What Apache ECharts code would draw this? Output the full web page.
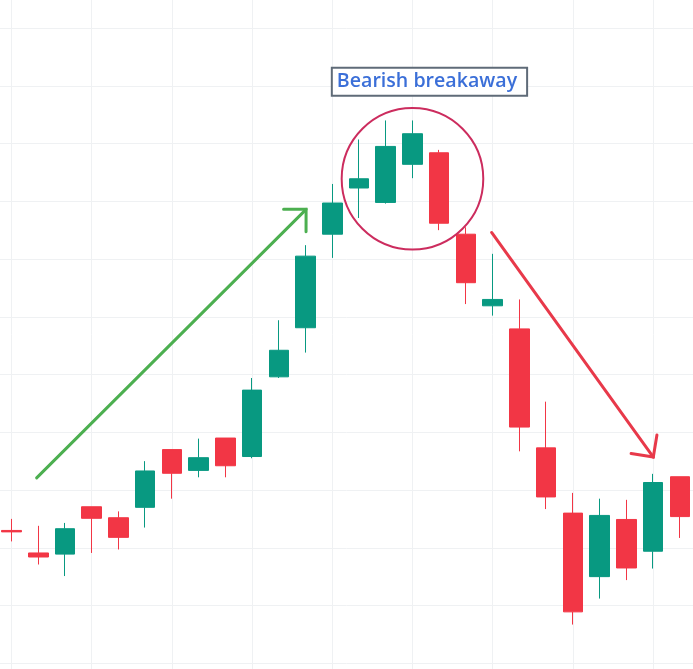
<!DOCTYPE html>
<html>
<head>
<meta charset="utf-8">
<script src="https://cdn.jsdelivr.net/npm/echarts@6/dist/echarts.min.js"></script>
<style>
html,body{margin:0;padding:0;background:#ffffff;}
#c{width:693px;height:669px;}
</style>
</head>
<body>
<div id="c"></div>
<script>
// ---- data ----
const categories = ['1','2','3','4','5','6','7','8','9','10','11','12','13','14','15','16','17','18','19','20','21','22','23','24','25','26'];
const opens  = [23.0, 19.1, 18.9, 27.1, 25.2, 27.0, 37.0, 33.4, 39.0, 35.8, 49.6, 58.1, 74.3, 82.3, 79.8, 86.4, 88.4, 74.3, 61.9, 57.9, 37.3, 26.0, 15.0, 24.9, 19.4, 32.3];
const closes = [22.75, 18.4, 23.3, 25.1, 21.8, 33.3, 32.9, 35.6, 34.2, 47.3, 54.2, 70.5, 79.7, 83.9, 89.5, 91.7, 76.2, 65.9, 63.0, 40.9, 28.8, 8.9, 25.6, 16.5, 31.3, 25.4];
const lows   = [21.1, 17.1, 15.1, 19.1, 19.7, 23.5, 28.5, 32.2, 32.2, 35.5, 49.4, 53.8, 70.2, 77.1, 79.6, 84.0, 75.0, 62.2, 60.2, 36.7, 26.7, 6.7, 11.2, 14.4, 16.4, 21.7];
const highs  = [25.0, 23.8, 24.3, 27.1, 26.3, 35.0, 37.0, 38.9, 39.0, 49.4, 59.4, 72.4, 83.0, 90.7, 94.0, 94.0, 88.9, 75.5, 70.9, 63.0, 45.3, 29.5, 28.5, 28.3, 32.8, 32.3];

// ---- annotation anchors: [candle index, price] ----
const annotationText = 'Bearish breakaway';
const labelAnchor = [12.02, 100.7];
const circleAnchor = [15.0, 83.9];
const greenArrow = [[0.94, 32.1], [11.02, 78.6]];
const redArrow = [[17.96, 74.6], [24.01, 35.7]];

// padded axis (one empty slot on each side so grid lines reach the edges)
const axisCats = [' '].concat(categories, ['  ']);
const ohlc = categories.map((c, i) => [opens[i], closes[i], lows[i], highs[i]]);
const seriesData = [['-','-','-','-']].concat(ohlc, [['-','-','-','-']]);

const UP = '#089981', DOWN = '#F23645', GRID = '#eff1f3';

const chart = echarts.init(document.getElementById('c'), null, {renderer: 'canvas'});
chart.setOption({
  animation: false,
  backgroundColor: '#ffffff',
  grid: {left: -15.2, right: -13.5, top: -29.7, bottom: -52, containLabel: false, outerBoundsMode: 'none'},
  xAxis: {
    type: 'category',
    data: axisCats,
    boundaryGap: false,
    axisLine: {show: false},
    axisTick: {show: false},
    axisLabel: {show: false},
    splitLine: {show: true, interval: function (idx) { return idx % 3 === 1; }, lineStyle: {color: GRID, width: 1}}
  },
  yAxis: {
    type: 'value',
    min: -10, max: 120, interval: 10,
    scale: false,
    axisLine: {show: false},
    axisTick: {show: false},
    axisLabel: {show: false},
    splitLine: {show: true, lineStyle: {color: GRID, width: 1}}
  },
  series: [{
    type: 'candlestick',
    data: seriesData,
    barWidth: 20,
    clip: false,
    itemStyle: {color: UP, color0: DOWN, borderColor: UP, borderColor0: DOWN, borderWidth: 1}
  }]
});

function toPx(anchor) {
  const a = chart.convertToPixel({xAxisIndex: 0, yAxisIndex: 0}, [1, 0]);
  const b = chart.convertToPixel({xAxisIndex: 0, yAxisIndex: 0}, [2, 0]);
  const p = chart.convertToPixel({xAxisIndex: 0, yAxisIndex: 0}, [1, anchor[1]]);
  return [a[0] + anchor[0] * (b[0] - a[0]), p[1]];
}
function arrow(seg, color) {
  const s = toPx(seg[0]), t = toPx(seg[1]);
  const ang = Math.atan2(s[1] - t[1], s[0] - t[0]);
  const L = 22.5, d = Math.PI / 4;
  const h1 = [t[0] + L * Math.cos(ang - d), t[1] + L * Math.sin(ang - d)];
  const h2 = [t[0] + L * Math.cos(ang + d), t[1] + L * Math.sin(ang + d)];
  const st = {stroke: color, lineWidth: 3, fill: null, lineCap: 'round', lineJoin: 'miter'};
  return [
    {type: 'polyline', shape: {points: [s, t]}, style: st, z: 100},
    {type: 'polyline', shape: {points: [h1, t, h2]}, style: st, z: 100}
  ];
}
const cc = toPx(circleAnchor);
const lp = toPx(labelAnchor);
chart.setOption({
  graphic: [
    {type: 'circle', shape: {cx: cc[0], cy: cc[1], r: 70.8}, style: {fill: null, stroke: '#cc2c5e', lineWidth: 2}, z: 100}
  ].concat(arrow(greenArrow, '#4caf50'), arrow(redArrow, '#e8394a'), [
    {type: 'text', x: lp[0], y: lp[1], z: 110,
     style: {text: annotationText, font: '600 19.6px "Open Sans"', fill: '#3b6fd8', align: 'left', verticalAlign: 'middle',
             lineHeight: 22, backgroundColor: '#ffffff', borderColor: '#5f6b78', borderWidth: 2, padding: [2, 9, 2, 4]}}
  ])
});
</script>
</body>
</html>
